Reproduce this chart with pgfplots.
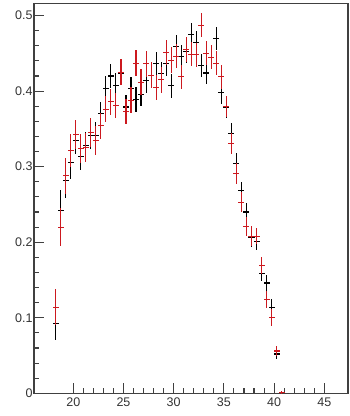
\documentclass[border=0pt]{standalone}
\usepackage{pgfplots}
\usepackage{pgfplotstable}
\pgfplotsset{compat=1.18}
\usepackage{fontspec}
\setmainfont{Liberation Sans}
\definecolor{rootred}{rgb}{0.80,0.10,0.12}

\pgfplotstableread{
x y ex ey
18.25 0.092 0.3 0.022
18.75 0.242 0.3 0.027
19.25 0.282 0.3 0.024
19.75 0.305 0.3 0.021
20.25 0.335 0.3 0.018
20.75 0.313 0.3 0.018
21.25 0.328 0.3 0.018
21.75 0.341 0.3 0.018
22.25 0.341 0.3 0.018
22.75 0.370 0.3 0.016
23.25 0.404 0.3 0.016
23.75 0.420 0.3 0.016
24.25 0.408 0.3 0.016
24.75 0.424 0.3 0.016
25.25 0.379 0.3 0.016
25.75 0.403 0.3 0.016
26.25 0.389 0.3 0.016
26.75 0.396 0.3 0.016
27.25 0.414 0.3 0.016
27.75 0.421 0.3 0.016
28.25 0.436 0.3 0.016
28.75 0.423 0.3 0.016
29.25 0.436 0.3 0.016
29.75 0.407 0.3 0.016
30.25 0.459 0.3 0.015
30.75 0.446 0.3 0.015
31.25 0.452 0.3 0.015
31.75 0.475 0.3 0.015
32.25 0.464 0.3 0.015
32.75 0.434 0.3 0.015
33.25 0.424 0.3 0.015
33.75 0.444 0.3 0.015
34.25 0.470 0.3 0.015
34.75 0.398 0.3 0.015
35.25 0.379 0.3 0.014
35.75 0.344 0.3 0.014
36.25 0.304 0.3 0.014
36.75 0.268 0.3 0.012
37.25 0.240 0.3 0.012
37.75 0.206 0.3 0.012
38.25 0.201 0.3 0.011
38.75 0.159 0.3 0.011
39.25 0.146 0.3 0.011
39.75 0.114 0.3 0.011
40.25 0.052 0.3 0.006
}\blackdata

\pgfplotstableread{
x y ex ey
18.25 0.114 0.3 0.024
18.75 0.220 0.3 0.025
19.25 0.288 0.3 0.024
19.75 0.321 0.3 0.022
20.25 0.343 0.3 0.019
20.75 0.324 0.3 0.019
21.25 0.325 0.3 0.019
21.75 0.345 0.3 0.019
22.25 0.335 0.3 0.019
22.75 0.354 0.3 0.017
23.25 0.376 0.3 0.017
23.75 0.386 0.3 0.017
24.25 0.381 0.3 0.017
24.75 0.425 0.3 0.017
25.25 0.373 0.3 0.017
25.75 0.388 0.3 0.017
26.25 0.437 0.3 0.017
26.75 0.412 0.3 0.017
27.25 0.436 0.3 0.017
27.75 0.421 0.3 0.017
28.25 0.405 0.3 0.017
28.75 0.415 0.3 0.017
29.25 0.451 0.3 0.017
29.75 0.441 0.3 0.017
30.25 0.446 0.3 0.016
30.75 0.419 0.3 0.016
31.25 0.455 0.3 0.016
31.75 0.449 0.3 0.016
32.25 0.448 0.3 0.016
32.75 0.487 0.3 0.016
33.25 0.450 0.3 0.016
33.75 0.445 0.3 0.016
34.25 0.437 0.3 0.016
34.75 0.419 0.3 0.016
35.25 0.380 0.3 0.014
35.75 0.331 0.3 0.014
36.25 0.291 0.3 0.014
36.75 0.253 0.3 0.013
37.25 0.221 0.3 0.013
37.75 0.208 0.3 0.013
38.25 0.208 0.3 0.011
38.75 0.169 0.3 0.011
39.25 0.124 0.3 0.011
39.75 0.100 0.3 0.011
40.25 0.056 0.3 0.006
40.75 0.001 0.3 0.002
}\reddata

\begin{document}
\begin{tikzpicture}
\begin{axis}[
  name=ax,
  scale only axis,
  width=314pt, height=389.8pt,
  xmin=16.09, xmax=47.36,
  ymin=0, ymax=0.516,
  axis line style={black!75, line width=1.1pt},
  tick style={black!75, line width=1.1pt},
  tick align=inside,
  tick pos=left,
  major tick length=10pt,
  minor tick length=5pt,
  xtick={20,25,30,35,40,45},
  minor x tick num=4,
  ytick={0,0.1,0.2,0.3,0.4,0.5},
  minor ytick={0.02,0.04,0.06,0.08,0.12,0.14,0.16,0.18,0.22,0.24,0.26,0.28,0.32,0.34,0.36,0.38,0.42,0.44,0.46,0.48},
  yticklabel style={/pgf/number format/fixed, /pgf/number format/precision=1, xshift=2pt},
  xticklabel style={yshift=-1pt},
  /pgf/number format/assume math mode=true,
  ticklabel style={font=\fontsize{12.5}{14}\selectfont, text=black!80},
  clip=true,
]
\addplot[black, line width=1.1pt, only marks, mark=-, mark size=0pt, mark options={opacity=0},
  error bars/.cd, x dir=both, x explicit, y dir=both, y explicit, error mark=none,
  error bar style={black, solid, line width=1.1pt, opacity=1}]
  table[x=x, y=y, x error=ex, y error=ey] {\blackdata};
\addplot[rootred, line width=1.1pt, only marks, mark=-, mark size=0pt, mark options={opacity=0},
  error bars/.cd, x dir=both, x explicit, y dir=both, y explicit, error mark=none,
  error bar style={rootred, solid, line width=1.1pt, opacity=1}]
  table[x=x, y=y, x error=ex, y error=ey] {\reddata};
\end{axis}
\pgfresetboundingbox
\path[use as bounding box] ([xshift=-34pt,yshift=-22.7pt]ax.south west) rectangle ([xshift=2pt,yshift=3.5pt]ax.north east);
\end{tikzpicture}
\end{document}
